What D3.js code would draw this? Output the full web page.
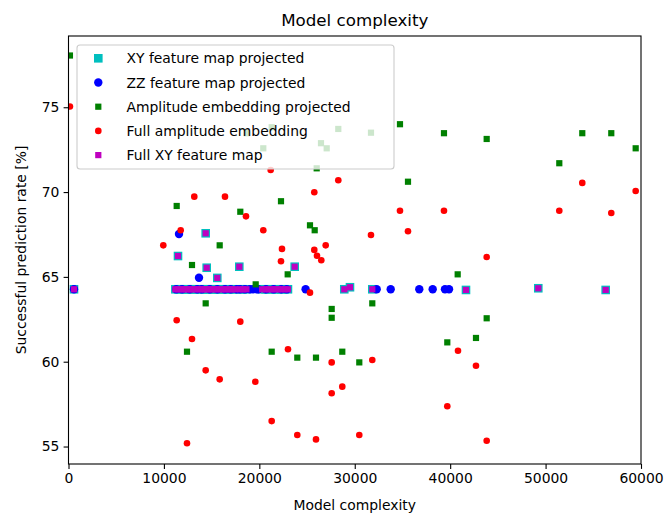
<!DOCTYPE html>
<html>
<head>
<meta charset="utf-8">
<script src="https://cdn.jsdelivr.net/npm/d3@7"></script>
<style>
  body { margin: 0; background: #fff; }
  svg { display: block; font-family: "DejaVu Sans", sans-serif; }
</style>
</head>
<body>
<svg id="chart" width="669" height="519"></svg>
<script>
// ---------------- data ----------------
const title = "Model complexity";
const xLabel = "Model complexity";
const yLabel = "Successful prediction rate [%]";
const xTicks = [0, 10000, 20000, 30000, 40000, 50000, 60000];
const yTicks = [55, 60, 65, 70, 75];
const seriesNames = ["XY feature map projected", "ZZ feature map projected",
  "Amplitude embedding projected", "Full amplitude embedding", "Full XY feature map"];

const xyProjected = [
  [576, 64.27], [11200, 64.27], [11500, 64.27], [11800, 64.27], [12100, 64.27], [12350, 64.27],
  [12650, 64.27], [12900, 64.27], [13200, 64.27], [13500, 64.27], [13800, 64.27], [14050, 64.27],
  [14300, 64.27], [14550, 64.27], [14850, 64.27], [15150, 64.27], [15400, 64.27], [15700, 64.27],
  [16000, 64.27], [16250, 64.27], [16550, 64.27], [16850, 64.27], [17150, 64.27], [17450, 64.27],
  [18000, 64.27], [18300, 64.27], [18650, 64.27], [20300, 64.27], [20650, 64.27], [21000, 64.27],
  [21300, 64.27], [21650, 64.27], [21950, 64.27], [22300, 64.27], [22650, 64.27], [23000, 64.27],
  [28903, 64.27], [29500, 64.39], [31838, 64.27], [41658, 64.23], [49235, 64.33], [56298, 64.23],
  [11476, 66.23], [14378, 67.57], [14483, 65.54], [17900, 65.60], [15594, 64.94], [23706, 65.60]
];
const zzProjected = [
  [576, 64.27], [11580, 67.53], [13676, 64.95], [11300, 64.27], [11900, 64.27], [12700, 64.27],
  [13500, 64.27], [13960, 64.27], [14800, 64.27], [15600, 64.27], [16400, 64.27], [17000, 64.27],
  [17627, 64.27], [17973, 64.27], [18500, 64.27], [19022, 64.27], [19336, 64.27], [19722, 64.27],
  [19891, 64.27], [20698, 64.27], [21500, 64.27], [22300, 64.27], [22868, 64.27], [24850, 64.27],
  [32299, 64.27], [33767, 64.27], [36764, 64.27], [38168, 64.27], [39457, 64.27], [39880, 64.27]
];
const amplitudeProjected = [
  [150, 78.05], [34741, 74.0], [39352, 73.47], [43827, 73.13], [53846, 73.47], [56885, 73.47],
  [51437, 71.70], [59443, 72.58], [40788, 65.15], [43827, 62.56], [42706, 61.40], [39699, 61.14],
  [27583, 63.11], [27583, 62.59], [21295, 60.59], [23979, 60.24], [25938, 60.24], [28694, 60.59],
  [30476, 59.96], [12419, 60.59], [11339, 69.18], [18005, 68.84], [15845, 66.86], [12943, 65.70],
  [19618, 64.56], [14378, 63.44], [35580, 70.61], [22270, 69.46], [25309, 68.04], [25802, 67.75],
  [22972, 65.15], [31838, 63.44], [18676, 73.47], [20415, 72.58], [28275, 73.72], [31702, 73.50],
  [26462, 72.88], [27059, 72.58], [26011, 71.40], [21295, 73.82]
];
const fullAmplitude = [
  [150, 75.04], [53846, 70.54], [59443, 70.06], [39352, 68.90], [51437, 68.90], [56885, 68.77],
  [43827, 66.17], [40820, 60.65], [42706, 59.76], [39699, 57.37], [43827, 55.34], [23004, 60.73],
  [27583, 59.96], [31838, 60.10], [19580, 58.82], [28694, 58.53], [27583, 58.14], [21295, 56.50],
  [23979, 55.68], [25938, 55.42], [30476, 55.68], [11339, 62.44], [18005, 62.36], [12943, 61.34],
  [14378, 59.49], [15845, 58.96], [12419, 55.19], [13184, 69.73], [16401, 69.73], [18602, 68.57],
  [11758, 67.75], [9935, 66.86], [28275, 70.70], [25760, 69.99], [34741, 68.90], [20415, 67.75],
  [31702, 67.47], [35580, 67.69], [22375, 66.65], [26955, 66.86], [25760, 66.59], [26043, 66.25],
  [26494, 65.98], [22270, 65.92], [25309, 64.07], [21190, 71.30]
];
const fullXY = [
  [576, 64.27], [11200, 64.27], [11500, 64.27], [11800, 64.27], [12100, 64.27], [12350, 64.27],
  [12650, 64.27], [12900, 64.27], [13200, 64.27], [13500, 64.27], [13800, 64.27], [14050, 64.27],
  [14300, 64.27], [14550, 64.27], [14850, 64.27], [15150, 64.27], [15400, 64.27], [15700, 64.27],
  [16000, 64.27], [16250, 64.27], [16550, 64.27], [16850, 64.27], [17150, 64.27], [17450, 64.27],
  [18000, 64.27], [18300, 64.27], [18650, 64.27], [20300, 64.27], [20650, 64.27], [21000, 64.27],
  [21300, 64.27], [21650, 64.27], [21950, 64.27], [22300, 64.27], [22650, 64.27], [23000, 64.27],
  [28903, 64.27], [29500, 64.39], [31838, 64.27], [41658, 64.23], [49235, 64.33], [56298, 64.23],
  [11476, 66.23], [14378, 67.57], [14483, 65.54], [17900, 65.60], [15594, 64.94], [23706, 65.60]
];

// ---------------- layout ----------------
const svg = d3.select("#chart");
const L = 68.5, R = 641, T = 36, B = 464;
const x = d3.scaleLinear().domain([0, 60000]).range([L, R]);
const y = d3.scaleLinear().domain([53.97, 79.2]).range([B, T]);

const series = [
  { name: seriesNames[0], data: xyProjected, color: "#00bfbf", shape: "square", size: 8.6 },
  { name: seriesNames[1], data: zzProjected, color: "#0000ff", shape: "circle", size: 8.4 },
  { name: seriesNames[2], data: amplitudeProjected, color: "#008000", shape: "square", size: 6.2 },
  { name: seriesNames[3], data: fullAmplitude, color: "#ff0000", shape: "circle", size: 6.6 },
  { name: seriesNames[4], data: fullXY, color: "#bf00bf", shape: "square", size: 6.2 }
];

function drawMarker(g, shape, size, color, cx, cy) {
  if (shape === "circle") {
    g.append("circle").attr("cx", cx).attr("cy", cy).attr("r", size / 2).attr("fill", color);
  } else {
    g.append("rect").attr("x", cx - size / 2).attr("y", cy - size / 2)
      .attr("width", size).attr("height", size).attr("fill", color);
  }
}

// clip
svg.append("defs").append("clipPath").attr("id", "clip")
  .append("rect").attr("x", L).attr("y", T).attr("width", R - L).attr("height", B - T);

const plot = svg.append("g").attr("clip-path", "url(#clip)");
series.forEach(s => {
  const g = plot.append("g");
  s.data.forEach(d => drawMarker(g, s.shape, s.size, s.color, x(d[0]), y(d[1])));
});

// axes
const xAxis = d3.axisBottom(x).tickValues(xTicks).tickFormat(d3.format("d"))
  .tickSizeInner(4.9).tickSizeOuter(0).tickPadding(4.3);
const yAxis = d3.axisLeft(y).tickValues(yTicks).tickFormat(d3.format("d"))
  .tickSizeInner(4.9).tickSizeOuter(0).tickPadding(4.3);

const gx = svg.append("g").attr("transform", `translate(0,${B})`).call(xAxis);
const gy = svg.append("g").attr("transform", `translate(${L},0)`).call(yAxis);
[gx, gy].forEach(g => {
  g.select(".domain").remove();
  g.selectAll(".tick line").attr("stroke", "#000").attr("stroke-width", 1.1);
  g.selectAll(".tick text").attr("fill", "#000").style("font-size", "13.9px")
    .style("font-family", "DejaVu Sans");
});

// spines
svg.append("rect").attr("x", L).attr("y", T).attr("width", R - L).attr("height", B - T)
  .attr("fill", "none").attr("stroke", "#000").attr("stroke-width", 1.1);

// legend
const lg = svg.append("g");
lg.append("rect").attr("x", 77).attr("y", 45).attr("width", 317).attr("height", 124)
  .attr("rx", 3).attr("fill", "#fff").attr("fill-opacity", 0.8)
  .attr("stroke", "#cccccc").attr("stroke-width", 1.1);
series.forEach((s, i) => {
  const cy = 58.3 + i * 24.2;
  drawMarker(lg, s.shape, s.size, s.color, 98.3, cy);
  lg.append("text").attr("x", 126.5).attr("y", cy).attr("dy", "0.36em")
    .style("font-size", "13.9px").attr("fill", "#000").text(s.name);
});

// titles
svg.append("text").attr("x", (L + R) / 2).attr("y", 26).attr("text-anchor", "middle")
  .style("font-size", "16.7px").attr("fill", "#000").text(title);
svg.append("text").attr("x", (L + R) / 2).attr("y", 510).attr("text-anchor", "middle")
  .style("font-size", "13.9px").attr("fill", "#000").text(xLabel);
svg.append("text").attr("transform", `translate(26,${(T + B) / 2}) rotate(-90)`)
  .attr("text-anchor", "middle").style("font-size", "13.9px").attr("fill", "#000").text(yLabel);
</script>
</body>
</html>
